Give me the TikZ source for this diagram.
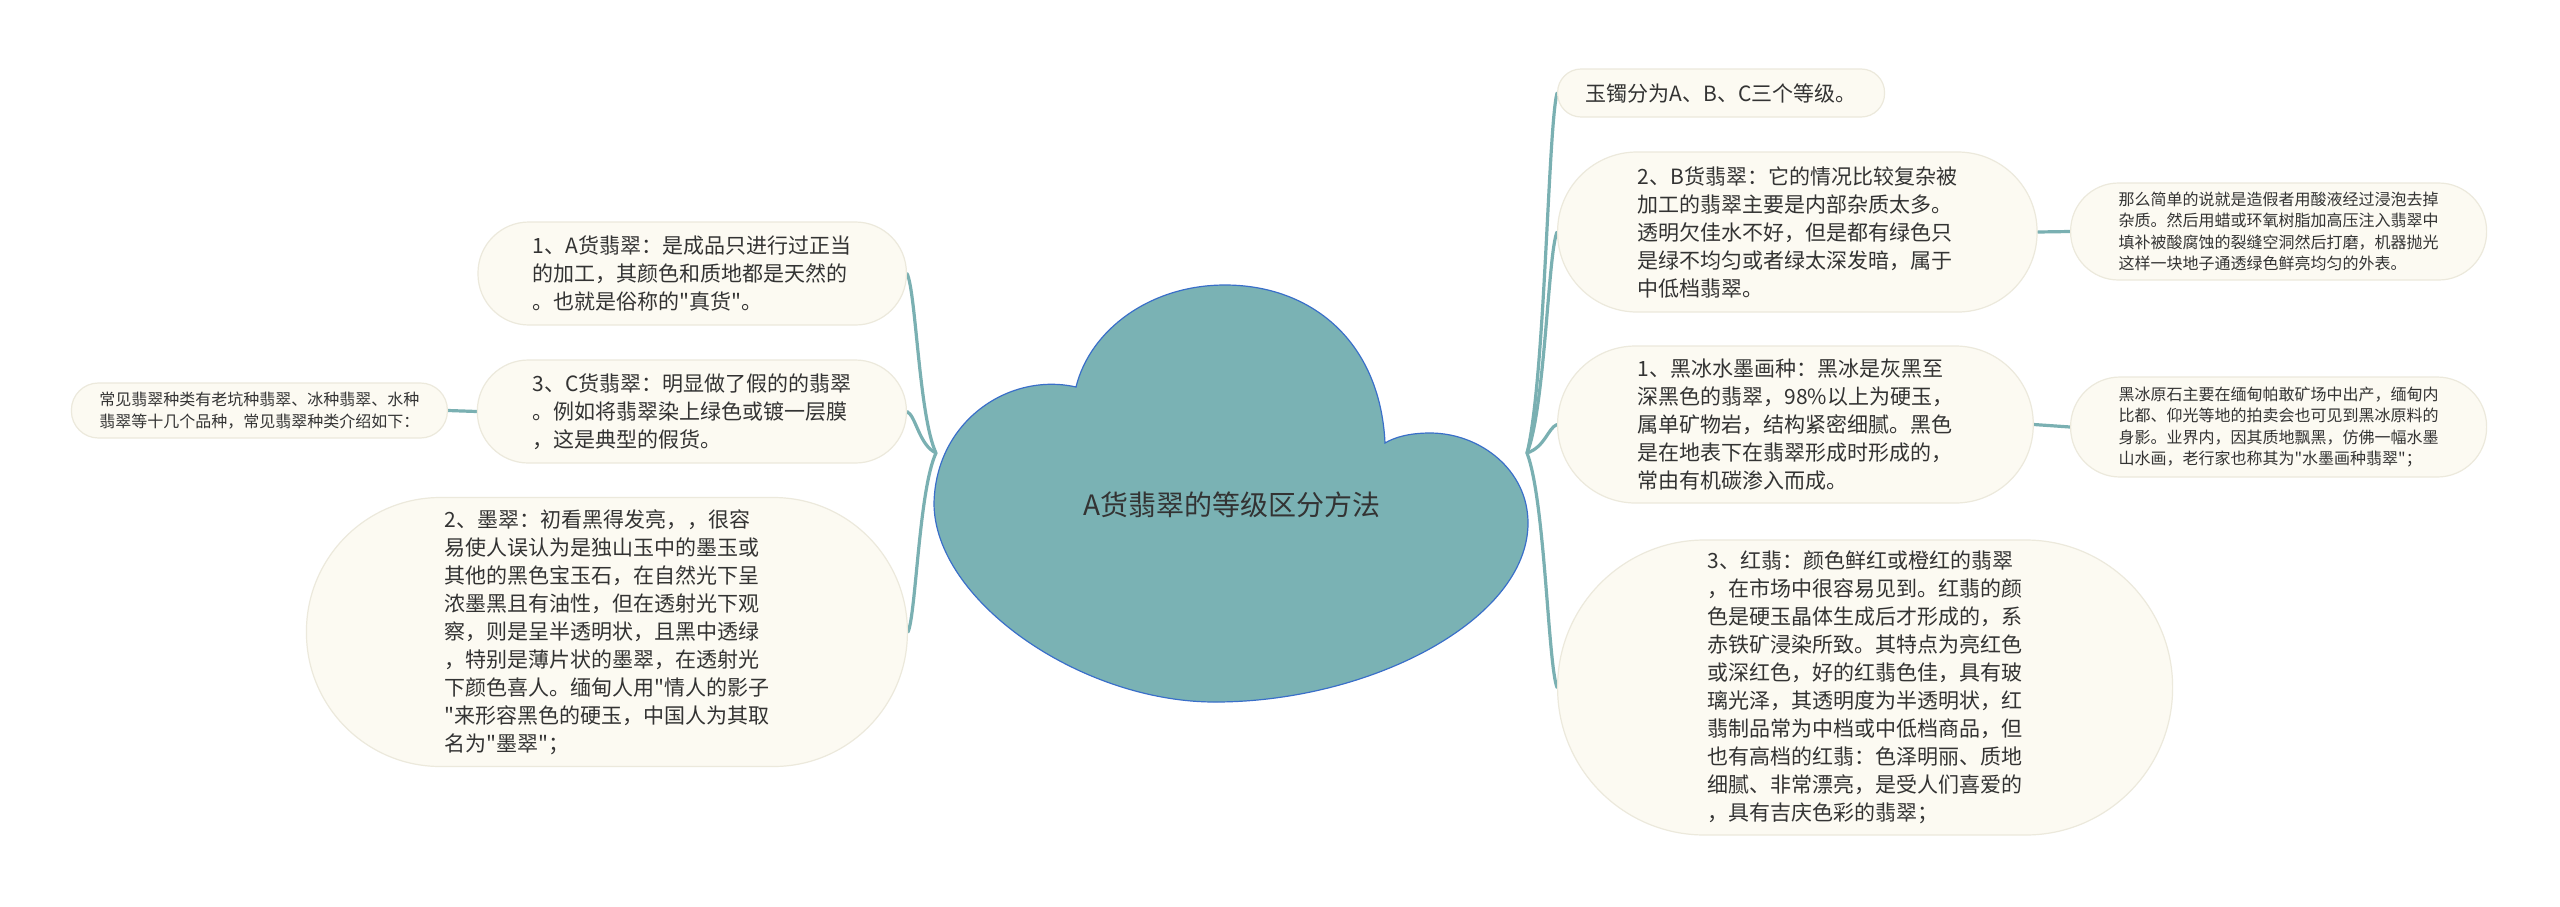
\documentclass[tikz,border=0pt]{standalone}
\usepackage{fontspec}
\newfontfamily\cjk{Noto Sans CJK SC}
\definecolor{linec}{HTML}{7AB0B2}
\definecolor{boxfill}{HTML}{FCFAF2}
\definecolor{boxdraw}{HTML}{ECE9DC}
\definecolor{txt}{HTML}{333333}
\definecolor{cloudfill}{HTML}{7AB2B4}
\definecolor{cloudline}{HTML}{3A6FC9}
\pgfdeclarelayer{back}
\pgfdeclarelayer{bg}
\pgfsetlayers{back,bg,main}
\begin{document}
\begin{tikzpicture}[x=1pt,y=-1pt,
  box/.style={draw=boxdraw, line width=1.2pt, fill=boxfill, text=txt, align=left, inner ysep=0pt},
  big/.style={box, font=\cjk\fontsize{21}{28}\selectfont},
  small/.style={box, font=\cjk\fontsize{16}{21.5}\selectfont},
  conn/.style={draw=linec, line width=3.2pt, line cap=round}]
\begin{pgfonlayer}{back}
\fill[white] (0,0) rectangle (2560,906);
\end{pgfonlayer}
\useasboundingbox (0,0) rectangle (2560,906);

% central cloud
\path[fill=cloudfill, draw=cloudline, line width=1.2pt]
  (1076,387) .. controls (1010,372) and (936,420) .. (934,503)
  .. controls (934,600) and (1080,702) .. (1215,702)
  .. controls (1370,702) and (1528,620) .. (1528,523)
  .. controls (1528,470) and (1480,433) .. (1430,433)
  .. controls (1410,433) and (1395,437) .. (1385,443)
  .. controls (1380,340) and (1310,285) .. (1225,285)
  .. controls (1150,285) and (1090,330) .. (1076,387) -- cycle;
\node[text=txt, font=\cjk\fontsize{28}{34}\selectfont] (root) at (1232,505) {A货翡翠的等级区分方法};
\coordinate (JL) at (936,453);
\coordinate (JR) at (1527,453);

% left nodes
\node[big, anchor=east, minimum height=103pt, rounded corners=51pt, inner xsep=55pt] (nA) at (907,273.5)
  {1、A货翡翠：是成品只进行过正当\\的加工，其颜色和质地都是天然的\\。也就是俗称的"真货"。};
\node[big, anchor=east, minimum height=103pt, rounded corners=51pt, inner xsep=55pt] (nC) at (907,411.5)
  {3、C货翡翠：明显做了假的的翡翠\\。例如将翡翠染上绿色或镀一层膜\\，这是典型的假货。};
\node[small, anchor=east, minimum height=55pt, rounded corners=27pt, inner xsep=28pt] (nCom) at (448,410.5)
  {常见翡翠种类有老坑种翡翠、冰种翡翠、水种\\翡翠等十几个品种，常见翡翠种类介绍如下：};
\node[big, anchor=east, minimum height=269pt, rounded corners=134pt, inner xsep=138pt] (nMo) at (908,632)
  {2、墨翠：初看黑得发亮，，很容\\易使人误认为是独山玉中的墨玉或\\其他的黑色宝玉石，在自然光下呈\\浓墨黑且有油性，但在透射光下观\\察，则是呈半透明状，且黑中透绿\\，特别是薄片状的墨翠，在透射光\\下颜色喜人。缅甸人用"情人的影子\\"来形容黑色的硬玉，中国人为其取\\名为"墨翠"；};

% right nodes
\node[big, anchor=west, minimum height=48pt, rounded corners=23.5pt, inner xsep=28pt] (nR1) at (1557,93)
  {玉镯分为A、B、C三个等级。};
\node[big, anchor=west, minimum height=160pt, rounded corners=79.5pt, inner xsep=80pt] (nR2) at (1557,232)
  {2、B货翡翠：它的情况比较复杂被\\加工的翡翠主要是内部杂质太多。\\透明欠佳水不好，但是都有绿色只\\是绿不均匀或者绿太深发暗，属于\\中低档翡翠。};
\node[small, anchor=west, minimum height=97pt, rounded corners=48pt, inner xsep=48pt] (nR2a) at (2070,231.5)
  {那么简单的说就是造假者用酸液经过浸泡去掉\\杂质。然后用蜡或环氧树脂加高压注入翡翠中\\填补被酸腐蚀的裂缝空洞然后打磨，机器抛光\\这样一块地子通透绿色鲜亮均匀的外表。};
\node[big, anchor=west, minimum height=157pt, rounded corners=78pt, inner xsep=80pt] (nR3) at (1557,424.5)
  {1、黑冰水墨画种：黑冰是灰黑至\\深黑色的翡翠，98\%以上为硬玉，\\属单矿物岩，结构紧密细腻。黑色\\是在地表下在翡翠形成时形成的，\\常由有机碳渗入而成。};
\node[small, anchor=west, minimum height=100pt, rounded corners=49.5pt, inner xsep=48pt] (nR3a) at (2070,427)
  {黑冰原石主要在缅甸帕敢矿场中出产，缅甸内\\比都、仰光等地的拍卖会也可见到黑冰原料的\\身影。业界内，因其质地飘黑，仿佛一幅水墨\\山水画，老行家也称其为"水墨画种翡翠"；};
\node[big, anchor=west, minimum height=295pt, rounded corners=147pt, inner xsep=150pt] (nR4) at (1557,687.5)
  {3、红翡：颜色鲜红或橙红的翡翠\\，在市场中很容易见到。红翡的颜\\色是硬玉晶体生成后才形成的，系\\赤铁矿浸染所致。其特点为亮红色\\或深红色，好的红翡色佳，具有玻\\璃光泽，其透明度为半透明状，红\\翡制品常为中档或中低档商品，但\\也有高档的红翡：色泽明丽、质地\\细腻、非常漂亮，是受人们喜爱的\\，具有吉庆色彩的翡翠；};

\begin{pgfonlayer}{bg}
\draw[conn] (JL) .. controls (919,417) and (916,291.5) .. (nA.east);
\draw[conn] (JL) .. controls (919,445) and (916,416) .. (nC.east);
\draw[conn] (JL) .. controls (919,489) and (916,614) .. (nMo.east);
\draw[conn] (nCom.east) -- (nC.west);
\draw[conn] (JR) .. controls (1545,381) and (1548,129) .. (nR1.west);
\draw[conn] (JR) .. controls (1545,409) and (1548,253) .. (nR2.west);
\draw[conn] (JR) .. controls (1545,447) and (1548,428) .. (nR3.west);
\draw[conn] (JR) .. controls (1545,500) and (1548,664) .. (nR4.west);
\draw[conn] (nR2.east) -- (nR2a.west);
\draw[conn] (nR3.east) -- (nR3a.west);
\end{pgfonlayer}
\end{tikzpicture}
\end{document}
